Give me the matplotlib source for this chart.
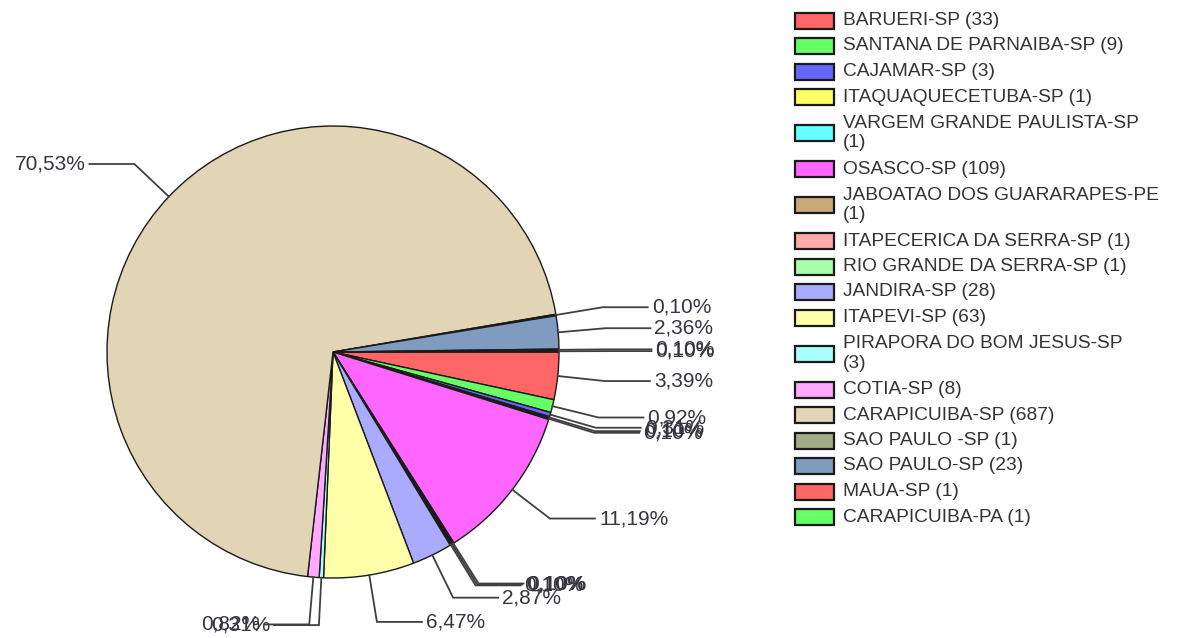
import matplotlib
matplotlib.use('Agg')
import matplotlib.pyplot as plt
from matplotlib.patches import Rectangle
import numpy as np

categories = ["BARUERI-SP", "SANTANA DE PARNAIBA-SP", "CAJAMAR-SP", "ITAQUAQUECETUBA-SP",
              "VARGEM GRANDE PAULISTA-SP", "OSASCO-SP", "JABOATAO DOS GUARARAPES-PE",
              "ITAPECERICA DA SERRA-SP", "RIO GRANDE DA SERRA-SP", "JANDIRA-SP", "ITAPEVI-SP",
              "PIRAPORA DO BOM JESUS-SP", "COTIA-SP", "CARAPICUIBA-SP", "SAO PAULO -SP",
              "SAO PAULO-SP", "MAUA-SP", "CARAPICUIBA-PA"]
counts = [33, 9, 3, 1, 1, 109, 1, 1, 1, 28, 63, 3, 8, 687, 1, 23, 1, 1]
colors = ["#FF6666", "#66FF66", "#6666FF", "#FFFF66", "#66FFFF", "#FF66FF", "#C9A977",
          "#FFAAAA", "#AAFFAA", "#AAAAFF", "#FFFFAA", "#AAFFFF", "#FFAAFF", "#E2D5B5",
          "#A3AC85", "#7F9CC0", "#FF6666", "#66FF66"]

plt.rcParams['font.family'] = ['Liberation Sans', 'DejaVu Sans']

W, H = 1177, 638
fig = plt.figure(figsize=(W / 100, H / 100), dpi=100)
ax = fig.add_axes([0, 0, 1, 1])

cx, cy_px, R = 333, 352, 226
cy = H - cy_px

wedges, _ = ax.pie(counts, colors=colors, startangle=0, counterclock=False,
                   center=(cx, cy), radius=R, frame=True,
                   wedgeprops=dict(edgecolor='#1a1a1a', linewidth=1.0))
ax.set_xlim(0, W)
ax.set_ylim(0, H)
ax.axis('off')

total = float(sum(counts))
line_col = '#404040'
txt_col = '#353540'
for w, c in zip(wedges, counts):
    mid = np.deg2rad((w.theta1 + w.theta2) / 2.0)
    ca, sa = np.cos(mid), np.sin(mid)
    p0 = (cx + R * ca, cy + R * sa)
    p1 = (cx + 1.21 * R * ca, cy + 1.21 * R * sa)
    sgn = 1 if ca >= 0 else -1
    p2 = (p1[0] + sgn * 45, p1[1])
    ax.plot([p0[0], p1[0], p2[0]], [p0[1], p1[1], p2[1]], color=line_col, lw=1.3,
            solid_joinstyle='miter', zorder=3)
    pct = f"{100 * c / total:.2f}%".replace('.', ',')
    ax.text(p2[0] + sgn * 4, p2[1], pct, ha='left' if sgn > 0 else 'right', va='center',
            fontsize=15, color=txt_col, zorder=4)

# legend
renderer = fig.canvas.get_renderer()
leg_fs = 13.8
max_w = 300


def wrap(label):
    t = ax.text(0, 0, label, fontsize=leg_fs)
    wpx = t.get_window_extent(renderer).width
    t.remove()
    if wpx <= max_w:
        return label
    head, tail = label.rsplit(' ', 1)
    return head + '\n' + tail


row = 25.5
extra = 21
yc = 20.5
prev_h = None
for i, (name, c, col) in enumerate(zip(categories, counts, colors)):
    lab = wrap(f"{name} ({c})")
    n = lab.count('\n') + 1
    h = row + extra * (n - 1)
    if prev_h is not None:
        yc = yc + prev_h / 2 + h / 2
    prev_h = h
    y = H - yc
    ax.add_patch(Rectangle((795, y - 8), 39, 16, facecolor=col, edgecolor='#1a1a1a',
                           linewidth=1.6, zorder=3))
    ax.text(843, y, lab, ha='left', va='center', fontsize=leg_fs, color='#333333',
            linespacing=1.17, zorder=4)

fig.savefig('out.png', dpi=100)
